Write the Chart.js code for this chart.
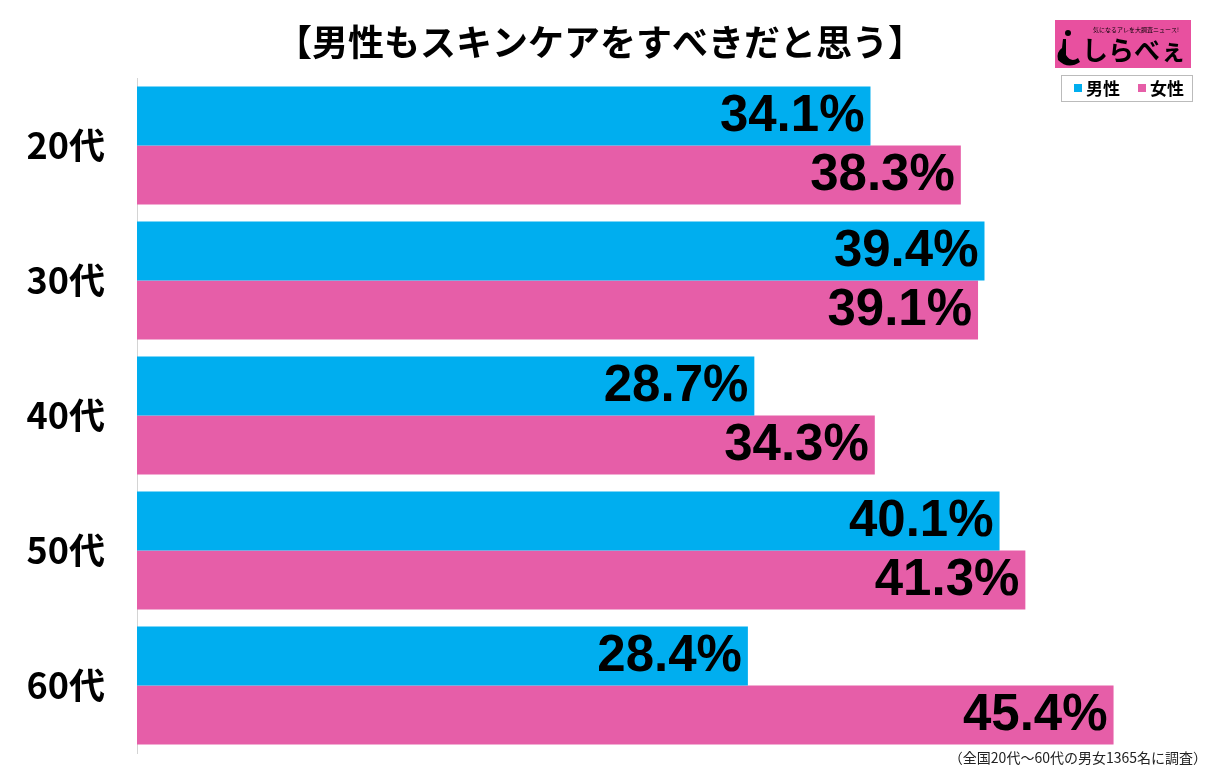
<!DOCTYPE html>
<html>
<head>
<meta charset="utf-8">
<script src="https://cdn.jsdelivr.net/npm/chart.js@4"></script>
<style>
  body { margin: 0; background: #fff; }
  #wrap { width: 1215px; height: 773px; }
</style>
</head>
<body>
<div id="wrap"><canvas id="myChart" width="1215" height="773"></canvas></div>
<script>
const ages = ['20代', '30代', '40代', '50代', '60代'];
const male = [34.1, 39.4, 28.7, 40.1, 28.4];
const female = [38.3, 39.1, 34.3, 41.3, 45.4];
const seriesNames = ['男性', '女性'];

const BLUE = '#00AEEF';
const PINK = '#E65EA8';

// value labels at the end of each bar
const barLabels = {
  id: 'barLabels',
  afterDatasetsDraw(chart) {
    const ctx = chart.ctx;
    ctx.save();
    ctx.font = 'bold 51px "Liberation Sans", Arial, sans-serif';
    ctx.fillStyle = '#000';
    ctx.textAlign = 'right';
    ctx.textBaseline = 'middle';
    chart.data.datasets.forEach((ds, i) => {
      chart.getDatasetMeta(i).data.forEach((el, j) => {
        ctx.fillText(ds.data[j].toFixed(1) + '%', el.x - 6, el.y + 1);
      });
    });
    ctx.restore();
  }
};

// title, logo, legend box, footnote
const decor = {
  id: 'decor',
  afterDraw(chart) {
    const ctx = chart.ctx;
    ctx.save();
    ctx.fillStyle = '#000';
    ctx.textAlign = 'center';
    ctx.textBaseline = 'middle';
    ctx.font = 'bold 36px "Noto Sans CJK JP", sans-serif';
    ctx.fillText('【男性もスキンケアをすべきだと思う】', 600, 42);

    // logo
    ctx.fillStyle = '#E8509F';
    ctx.fillRect(1055, 20, 136, 48);
    ctx.fillStyle = '#000';
    ctx.font = '6px "Noto Sans CJK JP", sans-serif';
    ctx.fillText('気になるアレを大調査ニュース!', 1136, 30);
    ctx.font = 'bold 26px "Noto Sans CJK JP", sans-serif';
    ctx.textAlign = 'left';
    ctx.fillText('しらべぇ', 1082, 50);
    ctx.beginPath();
    ctx.arc(1068, 33, 3, 0, Math.PI * 2);
    ctx.fill();
    ctx.beginPath();
    ctx.moveTo(1063, 39);
    ctx.lineTo(1066, 39);
    ctx.lineTo(1066, 55);
    ctx.quadraticCurveTo(1071, 63, 1078, 58);
    ctx.lineTo(1080, 62);
    ctx.quadraticCurveTo(1068, 70, 1058, 60);
    ctx.quadraticCurveTo(1056, 52, 1062, 48);
    ctx.closePath();
    ctx.fill();

    // legend box
    ctx.strokeStyle = '#bbb';
    ctx.lineWidth = 1;
    ctx.strokeRect(1061.5, 75.5, 131, 26);
    ctx.font = 'bold 17px "Noto Sans CJK JP", sans-serif';
    ctx.textBaseline = 'middle';
    ctx.fillStyle = BLUE;
    ctx.fillRect(1074, 84, 8, 8);
    ctx.fillStyle = '#000';
    ctx.fillText(seriesNames[0], 1086, 89);
    ctx.fillStyle = PINK;
    ctx.fillRect(1138, 84, 8, 8);
    ctx.fillStyle = '#000';
    ctx.fillText(seriesNames[1], 1150, 89);

    // footnote
    ctx.font = '14px "Noto Sans CJK JP", sans-serif';
    ctx.textAlign = 'right';
    ctx.fillStyle = '#222';
    ctx.fillText('（全国20代～60代の男女1365名に調査）', 1207, 758);
    ctx.restore();
  }
};

const data = {
  labels: ages,
  datasets: [
    { label: seriesNames[0], data: male, backgroundColor: BLUE, borderWidth: 0 },
    { label: seriesNames[1], data: female, backgroundColor: PINK, borderWidth: 0 }
  ]
};

const config = {
  type: 'bar',
  data: data,
  options: {
    indexAxis: 'y',
    responsive: false,
    animation: false,
    devicePixelRatio: 1,
    categoryPercentage: 0.874,
    barPercentage: 1,
    layout: { padding: { top: 78, bottom: 20, left: 0, right: 2.5 } },
    plugins: { legend: { display: false }, tooltip: { enabled: false }, title: { display: false } },
    scales: {
      x: { display: false, min: 0, max: 50 },
      y: {
        afterFit(scale) {
          scale.width = 137;
          scale.paddingTop = 0;
          scale.paddingBottom = 0;
        },
        grid: { display: false, drawTicks: false },
        border: { display: true, color: '#d4d4d4', width: 1 },
        ticks: {
          padding: 32,
          color: '#000',
          font: { family: '"Noto Sans CJK JP", sans-serif', size: 36, weight: 'bold' }
        }
      }
    }
  },
  plugins: [barLabels, decor]
};

const myChart = new Chart(document.getElementById('myChart'), config);
</script>
</body>
</html>
